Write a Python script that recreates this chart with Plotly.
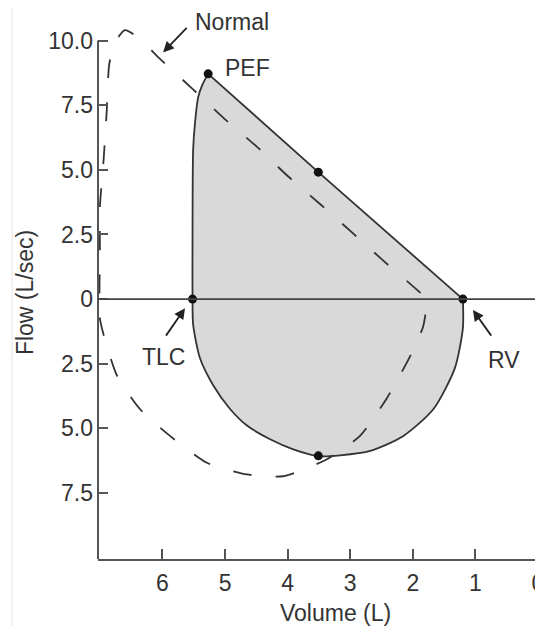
import plotly.graph_objects as go

# ---- data (Volume in L, Flow in L/sec; negative flow = inspiration) ----
# patient loop, curved part: from RV down through inspiration, to TLC, up to PEF
patient_curve_vol = [1.20, 1.20, 1.33, 1.67, 2.15, 2.68, 3.16, 3.51, 3.91, 4.28,
                     4.65, 4.92, 5.19, 5.40, 5.51, 5.52, 5.52, 5.51, 5.48,
                     5.43, 5.36, 5.27]
patient_curve_flow = [0.0, -1.12, -2.68, -4.25, -5.29, -5.87, -6.04, -6.07, -5.81, -5.42,
                      -4.89, -4.25, -3.33, -2.29, -0.99, 0.0, 2.0, 5.78, 6.82,
                      7.80, 8.30, 8.71]
# patient loop, straight expiratory limb: PEF -> RV
patient_line_vol = [5.27, 3.51, 1.20]
patient_line_flow = [8.71, 4.91, 0.0]

normal_vol = [7.00, 7.00, 7.00, 6.94, 6.89, 6.85, 6.75, 6.60, 6.35, 6.07,
              5.52, 5.00, 4.49, 3.99, 3.46, 2.95, 2.44, 1.91, 1.78,
              1.80, 1.84, 2.00, 2.15, 2.42, 2.84, 3.38, 4.07, 4.65,
              5.29, 5.88, 6.36, 6.73, 6.94, 7.00]
normal_flow = [-0.73, 1.90, 3.55, 5.40, 7.30, 9.10, 9.95, 10.40, 10.05, 9.36,
               8.13, 6.95, 5.89, 4.74, 3.63, 2.53, 1.42, 0.31, 0.0,
               -0.60, -1.10, -2.00, -2.70, -3.85, -5.28, -6.20, -6.85, -6.78,
               -6.33, -5.29, -4.25, -2.94, -1.38, -0.73]

point_vol = [5.27, 3.51, 5.52, 1.20, 3.51]
point_flow = [8.71, 4.91, 0.0, 0.0, -6.06]

x_ticks = [6, 5, 4, 3, 2, 1, 0]
x_ticktext = ["6", "5", "4", "3", "2", "1", "0"]
y_ticks = [-7.5, -5, -2.5, 0, 2.5, 5, 7.5, 10]
y_ticktext = ["7.5", "5.0", "2.5", "0", "2.5", "5.0", "7.5", "10.0"]

FONT = "Liberation Sans, Arial, sans-serif"
FS = 23
TXT = "#333333"

# the page body has an 8px margin, so the figure is drawn 8px in from the corner
OFF = 8
W, H = 543 - OFF, 626 - OFF
L, R, T, B = 98 - OFF, 5, 24.5 - OFF, 66.7
PW, PH = W - L - R, H - T - B


def px_x(p):
    return (p - OFF - L) / PW


def px_y(p):
    return (H - B - (p - OFF)) / PH


fig = go.Figure()

# filled patient loop (open spline path, closed by the straight PEF->RV limb)
fig.add_trace(go.Scatter(x=patient_curve_vol, y=patient_curve_flow, mode="lines",
                         fill="toself", fillcolor="#d9d9d9",
                         line=dict(width=1.8, color="#333333",
                                   shape="spline", smoothing=0.7),
                         hoverinfo="skip", showlegend=False))
# normal (dashed)
fig.add_trace(go.Scatter(x=normal_vol, y=normal_flow, mode="lines",
                         line=dict(color="#333333", width=1.8, dash="19px,24px",
                                   shape="spline", smoothing=0.6),
                         showlegend=False))
# straight expiratory limb
fig.add_trace(go.Scatter(x=patient_line_vol, y=patient_line_flow, mode="lines",
                         line=dict(width=1.8, color="#333333"),
                         showlegend=False))
# points
fig.add_trace(go.Scatter(x=point_vol, y=point_flow, mode="markers",
                         marker=dict(color="#111111", size=9),
                         cliponaxis=False, showlegend=False))

shapes = [
    # y axis line (stops at 10.0)
    dict(type="line", xref="paper", yref="y", x0=0, x1=0, y0=-10.05, y1=10.0,
         line=dict(color="#555555", width=2)),
    # zero flow line
    dict(type="line", xref="paper", yref="y", x0=0, x1=px_x(537), y0=0, y1=0,
         line=dict(color="#444444", width=1.8), layer="above"),
    # faint frame of the scanned figure
    dict(type="line", xref="paper", yref="paper", x0=px_x(12), x1=px_x(543),
         y0=px_y(5), y1=px_y(5), line=dict(color="#ececec", width=1.5)),
    dict(type="line", xref="paper", yref="paper", x0=px_x(12), x1=px_x(12),
         y0=px_y(626), y1=px_y(5), line=dict(color="#ececec", width=1.5)),
]

annotations = [
    dict(x=px_x(232), y=px_y(21), xref="paper", yref="paper", text="Normal",
         showarrow=False),
    dict(x=4.64, y=8.94, xref="x", yref="y", text="PEF", showarrow=False),
    dict(x=5.99, y=-2.24, xref="x", yref="y", text="TLC", showarrow=False),
    dict(x=0.54, y=-2.36, xref="x", yref="y", text="RV", showarrow=False),
    dict(x=px_x(335), y=px_y(613), xref="paper", yref="paper",
         text="Volume (L)", showarrow=False),
    dict(x=px_x(25), y=px_y(293), xref="paper", yref="paper",
         text="Flow (L/sec)", showarrow=False, textangle=-90),
]
for a in annotations:
    a.update(font=dict(family=FONT, size=FS, color=TXT),
             xanchor="center", yanchor="middle")

arrows = [
    ((5.99, 9.54), (5.59, 10.55)),
    ((5.64, -0.35), (5.96, -1.47)),
    ((1.04, -0.42), (0.73, -1.47)),
]
for (hx, hy), (tx, ty) in arrows:
    annotations.append(dict(x=hx, y=hy, ax=tx, ay=ty, xref="x", yref="y",
                            axref="x", ayref="y", text="", showarrow=True,
                            arrowhead=2, arrowsize=1.2, arrowwidth=1.8,
                            arrowcolor="#222222"))

fig.update_layout(
    width=W, height=H,
    margin=dict(l=L, r=R, t=T, b=B, autoexpand=False),
    paper_bgcolor="white", plot_bgcolor="white",
    shapes=shapes, annotations=annotations,
    font=dict(family=FONT, size=FS, color=TXT),
    xaxis=dict(range=[7.03, 0], tickvals=x_ticks, ticktext=x_ticktext,
               ticks="inside", ticklen=10, tickwidth=2, tickcolor="#555555",
               showline=True, linecolor="#555555", linewidth=2,
               showgrid=False, zeroline=False, ticklabelstandoff=2,
               ticklabeloverflow="allow",
               tickfont=dict(family=FONT, size=FS, color=TXT)),
    yaxis=dict(range=[-10.05, 10.6], tickvals=y_ticks, ticktext=y_ticktext,
               ticks="inside", ticklen=10, tickwidth=2, tickcolor="#555555",
               showline=False, showgrid=False, zeroline=False,
               ticklabelstandoff=4, ticklabeloverflow="allow",
               tickfont=dict(family=FONT, size=FS, color=TXT)),
)

fig.write_html("out.html")
